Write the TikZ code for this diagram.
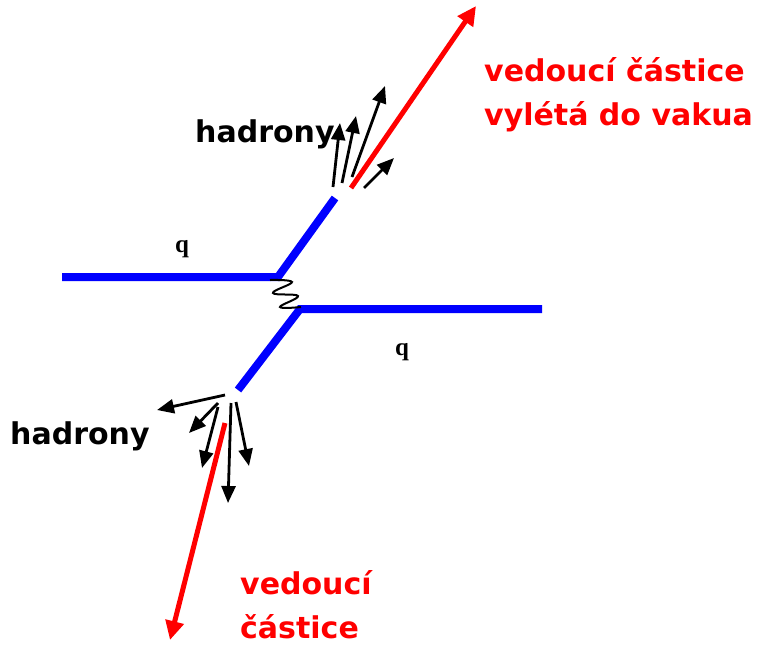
\documentclass[tikz,border=0pt]{standalone}
\usepackage{fontspec}
\setmainfont{DejaVu Sans}
\newfontfamily\qfont{Liberation Serif}
\usetikzlibrary{arrows.meta}

\begin{document}
\begin{tikzpicture}[x=1pt, y=-1pt, >={Triangle[length=17pt,width=14pt]},
  quark/.style={blue, line width=8pt},
  lead/.style={red, line width=5pt, ->, >={Triangle[length=19pt,width=18pt]}},
  hadron/.style={black, line width=2.8pt, ->},
  lbl/.style={font=\fontsize{30}{44}\selectfont\bfseries, inner sep=0pt, align=left, anchor=west},
  qlbl/.style={font=\qfont\fontsize{25}{25}\selectfont\bfseries, inner sep=0pt}]
  \useasboundingbox (0,0) rectangle (770,646);

  % quark lines
  \coordinate (qa1) at (62,277);
  \coordinate (qa2) at (278,277);
  \coordinate (qa3) at (335,198);
  \coordinate (qb1) at (542,309);
  \coordinate (qb2) at (300,309);
  \coordinate (qb3) at (238,390);
  \draw[quark] (qa1) -- (qa2) -- (qa3);
  \draw[quark] (qb1) -- (qb2) -- (qb3);

  % exchanged gluon
  \coordinate (ga) at (270,280);
  \coordinate (gb) at (301,307);
  \draw[black, line width=2pt] plot[smooth, tension=0.7] coordinates
    {(ga) (292,282) (273,293) (298,296) (280,307) (gb)};

  % leading particles
  \coordinate (la0) at (351,188);
  \coordinate (la1) at (476,6);
  \coordinate (lb0) at (225,423);
  \coordinate (lb1) at (170,640);
  \draw[lead] (la0) -- (la1);
  \draw[lead] (lb0) -- (lb1);

  % hadrons, upper jet
  \coordinate (ha1) at (333,187);
  \coordinate (ha2) at (342,183);
  \coordinate (ha3) at (352,177);
  \coordinate (ha4) at (364,188);
  \draw[hadron] (ha1) -- (340,123);
  \draw[hadron] (ha2) -- (356,116);
  \draw[hadron] (ha3) -- (385,86);
  \draw[hadron] (ha4) -- (394,158);

  % hadrons, lower jet
  \coordinate (hb1) at (225,395);
  \coordinate (hb2) at (218,403);
  \coordinate (hb3) at (218,407);
  \coordinate (hb4) at (231,403);
  \coordinate (hb5) at (236,402);
  \draw[hadron] (hb1) -- (157,410);
  \draw[hadron] (hb2) -- (189,433);
  \draw[hadron] (hb3) -- (202,468);
  \draw[hadron] (hb4) -- (228,503);
  \draw[hadron] (hb5) -- (249,466);

  % labels
  \node[qlbl] (qa) at (182,249) {q};
  \node[qlbl] (qb) at (402,352) {q};
  \node[lbl] (hadra) at (195,134) {hadrony};
  \node[lbl] (hadrb) at (10,436) {hadrony};
  \node[lbl, red] (vedouci) at (484,95) {vedoucí částice\\vylétá do vakua};
  \node[lbl, red] (vedoucib) at (240,605) {vedoucí\\částice};
\end{tikzpicture}
\end{document}
